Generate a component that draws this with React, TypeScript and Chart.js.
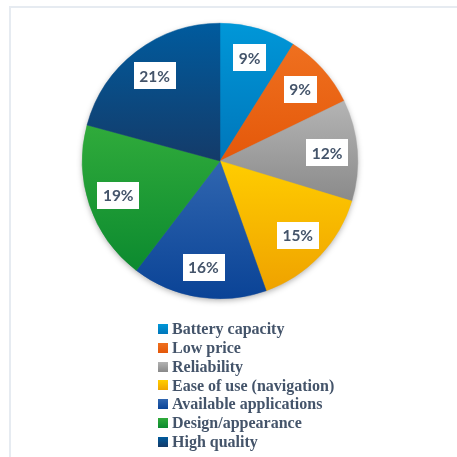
import React, { useEffect, useRef } from "react";
import { Chart, registerables } from "chart.js";

Chart.register(...registerables);

const categories = [
  "Battery capacity",
  "Low price",
  "Reliability",
  "Ease of use (navigation)",
  "Available applications",
  "Design/appearance",
  "High quality",
];
const shares = [9, 9, 12, 15, 16, 19, 21];
const topColors = ["#0097d8", "#ef701f", "#b4b4b4", "#ffcd00", "#3066b0", "#30ab3b", "#005b9e"];
const bottomColors = ["#0076ba", "#e4580a", "#8a8a8a", "#efa200", "#0a4396", "#0c8a2f", "#143b69"];
const textColor = "#44546a";

function sliceGradient(c: any) {
  const i = c.dataIndex;
  const chart = c.chart;
  const area = chart.chartArea;
  if (!area || i === undefined) return topColors[i ?? 0];
  const cx = (area.left + area.right) / 2;
  const cy = (area.top + area.bottom) / 2;
  const r = Math.min(area.right - area.left, area.bottom - area.top) / 2;
  const total = shares.reduce((a, b) => a + b, 0);
  let before = 0;
  for (let k = 0; k < i; k++) before += shares[k];
  const a0 = -Math.PI / 2 + (before / total) * Math.PI * 2;
  const a1 = a0 + (shares[i] / total) * Math.PI * 2;
  const ys = [cy, cy + r * Math.sin(a0), cy + r * Math.sin(a1)];
  for (const k of [-Math.PI / 2, Math.PI / 2, (3 * Math.PI) / 2]) {
    if (k >= a0 && k <= a1) ys.push(cy + r * Math.sin(k));
  }
  const y0 = Math.min(...ys);
  const y1 = Math.max(...ys);
  const g = chart.ctx.createLinearGradient(0, y0, 0, y1 > y0 ? y1 : y0 + 1);
  g.addColorStop(0, topColors[i]);
  g.addColorStop(1, bottomColors[i]);
  return g;
}

const shadowPlugin = {
  id: "pieShadow",
  beforeDatasetsDraw(chart: any) {
    const arc = chart.getDatasetMeta(0).data[0];
    if (!arc) return;
    const { x, y, outerRadius } = arc.getProps(["x", "y", "outerRadius"], true);
    const ctx = chart.ctx;
    ctx.save();
    ctx.shadowColor = "rgba(0,0,0,0.35)";
    ctx.shadowBlur = 6;
    ctx.shadowOffsetX = 0;
    ctx.shadowOffsetY = 2;
    ctx.beginPath();
    ctx.arc(x, y, outerRadius - 0.5, 0, Math.PI * 2);
    ctx.fillStyle = "#888";
    ctx.fill();
    ctx.restore();
  },
};

const labelPlugin = {
  id: "sliceLabels",
  afterDatasetsDraw(chart: any) {
    const ctx = chart.ctx;
    const meta = chart.getDatasetMeta(0);
    ctx.save();
    ctx.font = "bold 15.5px Lato";
    ctx.textAlign = "center";
    ctx.textBaseline = "middle";
    meta.data.forEach((arc: any, i: number) => {
      const { x, y, startAngle, endAngle, outerRadius } = arc.getProps(
        ["x", "y", "startAngle", "endAngle", "outerRadius"],
        true
      );
      const mid = (startAngle + endAngle) / 2;
      const px = x + Math.cos(mid) * outerRadius * 0.78;
      const py = y + Math.sin(mid) * outerRadius * 0.78;
      const text = shares[i] + "%";
      const w = ctx.measureText(text).width + 11;
      const h = 27;
      ctx.fillStyle = "#ffffff";
      ctx.fillRect(Math.round(px - w / 2), Math.round(py - h / 2), Math.round(w), h);
      ctx.fillStyle = textColor;
      ctx.fillText(text, px, py + 1);
    });
    ctx.restore();
  },
};

const legendPlugin = {
  id: "columnLegend",
  afterDraw(chart: any) {
    const ctx = chart.ctx;
    const area = chart.chartArea;
    const cx = (area.left + area.right) / 2;
    const x0 = cx - 62;
    const yStart = area.bottom + 30;
    const step = 18.8;
    ctx.save();
    ctx.font = "bold 16px 'Liberation Serif'";
    ctx.textAlign = "left";
    ctx.textBaseline = "middle";
    categories.forEach((label, i) => {
      const yc = yStart + i * step;
      const g = ctx.createLinearGradient(0, yc - 5, 0, yc + 5);
      g.addColorStop(0, topColors[i]);
      g.addColorStop(1, bottomColors[i]);
      ctx.fillStyle = g;
      ctx.fillRect(Math.round(x0), Math.round(yc - 5), 10, 10);
      ctx.fillStyle = textColor;
      ctx.fillText(label, x0 + 14, yc + 1);
    });
    ctx.restore();
  },
};

export default function App() {
  const canvasRef = useRef<HTMLCanvasElement | null>(null);

  useEffect(() => {
    if (!canvasRef.current) return;
    const chart = new Chart(canvasRef.current, {
      type: "pie",
      data: {
        labels: categories,
        datasets: [
          {
            data: shares,
            backgroundColor: sliceGradient as any,
            borderColor: sliceGradient as any,
            borderWidth: 0.5,
          },
        ],
      },
      options: {
        responsive: false,
        animation: false,
        layout: { padding: { left: 82, right: 99, top: 23, bottom: 158 } },
        plugins: {
          legend: { display: false },
          tooltip: { enabled: false },
        },
      },
      plugins: [shadowPlugin, labelPlugin, legendPlugin],
    });
    return () => chart.destroy();
  }, []);

  return (
    <div
      style={{
        position: "fixed",
        left: 0,
        top: 0,
        width: 457,
        height: 457,
        background: "#ffffff",
        overflow: "hidden",
      }}
    >
      <div
        style={{
          position: "absolute",
          left: 9,
          top: 6,
          width: 460,
          height: 460,
          borderLeft: "2px solid #e6ebf1",
          borderTop: "2px solid #e6ebf1",
        }}
      />
      <canvas
        ref={canvasRef}
        width={457}
        height={457}
        style={{ position: "absolute", left: 0, top: 0, width: 457, height: 457 }}
      />
    </div>
  );
}
